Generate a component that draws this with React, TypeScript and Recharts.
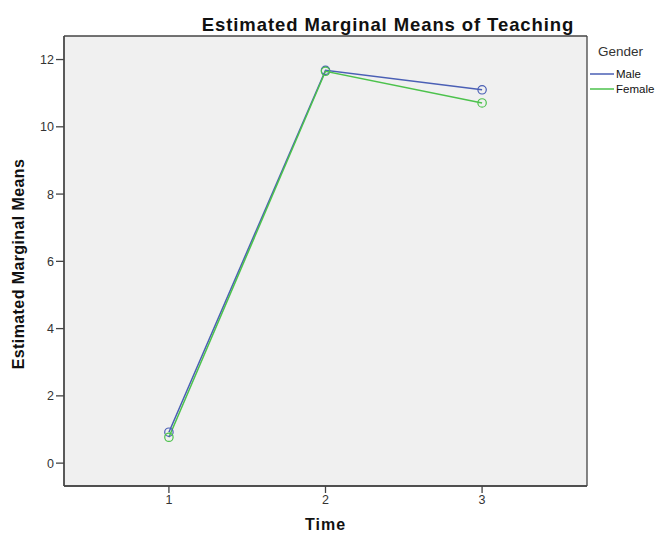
import React from 'react';
import { LineChart, Line, XAxis, YAxis, CartesianGrid } from 'recharts';

const times = [1, 2, 3];
const maleMeans = [0.92, 11.68, 11.1];
const femaleMeans = [0.77, 11.65, 10.71];
const yTicks = [0, 2, 4, 6, 8, 10, 12];
const xTicks = [1, 2, 3];
const seriesNames = ['Male', 'Female'];
const seriesColors = ['#4a5fb5', '#4cc24c'];
const xDomain = [0.33, 3.67];
const yDomain = [-0.68, 12.7];

const data = times.map((t, i) => ({ time: t, Male: maleMeans[i], Female: femaleMeans[i] }));

const font = '"Liberation Sans", Arial, sans-serif';

const Dot = (props: any) => {
  const { cx, cy, stroke } = props;
  if (cx == null || cy == null) return null;
  return <circle cx={cx} cy={cy} r={4.2} fill="none" stroke={stroke} strokeWidth={1.2} />;
};

export default function App() {
  return (
    <div style={{ position: 'absolute', left: 0, top: 0, width: 663, height: 534, background: '#fff' }}>
      <svg style={{ position: 'absolute', left: 0, top: 0 }} width={663} height={534}>
        <text x={388} y={31} textAnchor="middle" fontFamily={font} fontWeight="bold" fontSize={18.5} letterSpacing={0.9} fill="#111">
          Estimated Marginal Means of Teaching
        </text>
        <text x={598} y={56} fontFamily={font} fontSize={13.5} fill="#333">Gender</text>
        {seriesNames.map((n, i) => (
          <g key={n}>
            <line x1={590} x2={614} y1={74 + i * 15} y2={74 + i * 15} stroke={seriesColors[i]} strokeWidth={1.5} />
            <text x={616} y={78 + i * 15} fontFamily={font} fontSize={11.5} fill="#111">{n}</text>
          </g>
        ))}
      </svg>
      <LineChart width={663} height={534} data={data} margin={{ top: 36, right: 76, bottom: 18, left: 14 }} style={{ position: 'absolute', left: 0, top: 0 }}>
        <CartesianGrid
          fill="#f0f0f0"
          stroke="#444"
          strokeWidth={1.3}
          horizontalValues={yDomain}
          verticalValues={xDomain}
        />
        <XAxis
          dataKey="time"
          type="number"
          domain={xDomain}
          ticks={xTicks}
          height={30}
          axisLine={{ stroke: '#444', strokeWidth: 1.3 }}
          tickLine={{ stroke: '#444', strokeWidth: 1.3 }}
          tickSize={7}
          tickMargin={2}
          tick={{ fontSize: 12.5, fill: '#333', fontFamily: font }}
          label={{
            content: (p: any) => {
              const vb = p.viewBox;
              return (
                <text x={vb.x + vb.width / 2} y={530} textAnchor="middle" fontFamily={font} fontWeight="bold" fontSize={16} letterSpacing={1} fill="#111">
                  Time
                </text>
              );
            },
          }}
        />
        <YAxis
          type="number"
          domain={yDomain}
          ticks={yTicks}
          width={50}
          axisLine={{ stroke: '#444', strokeWidth: 1.3 }}
          tickLine={{ stroke: '#444', strokeWidth: 1.3 }}
          tickSize={8}
          tickMargin={2}
          tick={{ fontSize: 12.5, fill: '#333', fontFamily: font }}
          label={{
            content: (p: any) => {
              const vb = p.viewBox;
              const cy = vb.y + vb.height / 2 + 3;
              return (
                <text x={24} y={cy} transform={`rotate(-90, 24, ${cy})`} textAnchor="middle" fontFamily={font} fontWeight="bold" fontSize={16} letterSpacing={0.4} fill="#111">
                  Estimated Marginal Means
                </text>
              );
            },
          }}
        />
        {seriesNames.map((n, i) => (
          <Line
            key={n}
            dataKey={n}
            type="linear"
            stroke={seriesColors[i]}
            strokeWidth={1.5}
            dot={<Dot />}
            activeDot={false}
            isAnimationActive={false}
          />
        ))}
      </LineChart>
    </div>
  );
}
